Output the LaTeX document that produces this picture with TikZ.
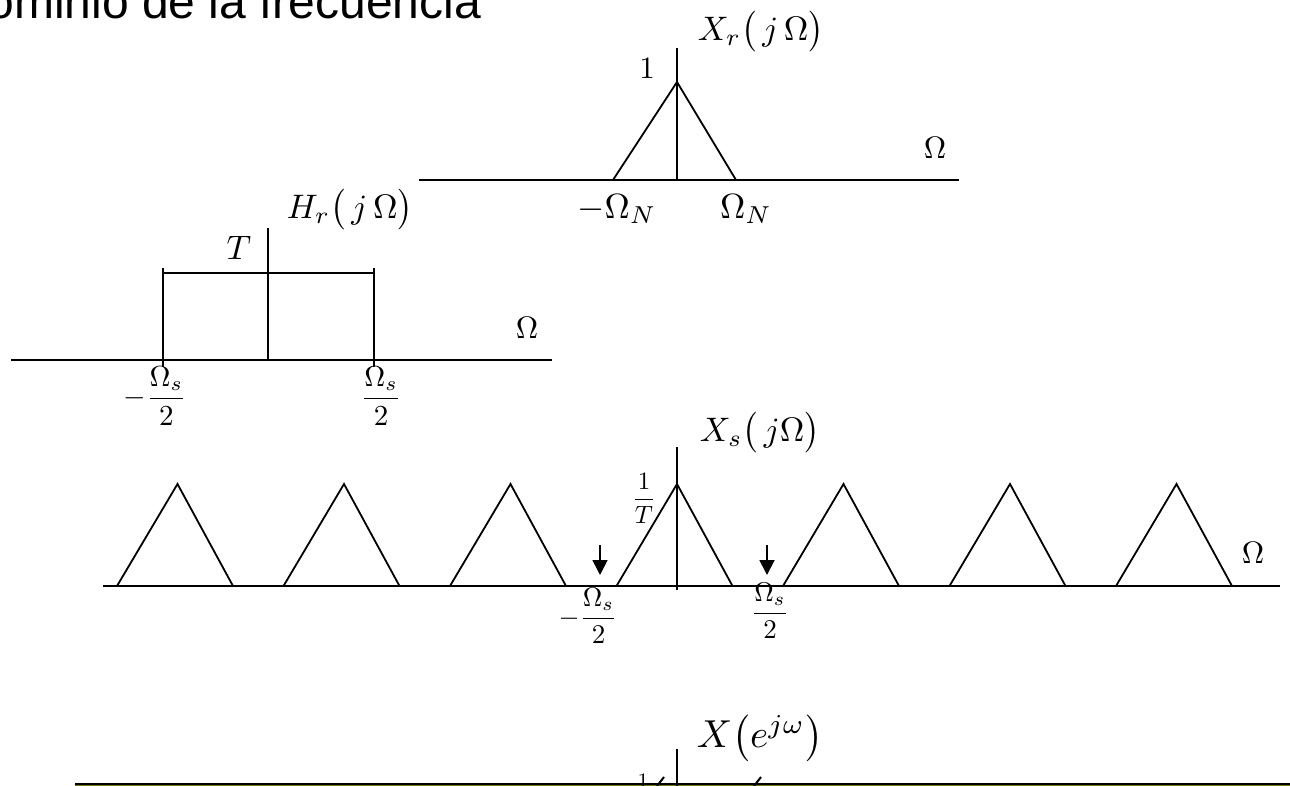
\documentclass[tikz,border=0pt]{standalone}
\usepackage{fontspec}
\newfontfamily\titlefont{Liberation Sans}
\usetikzlibrary{arrows.meta}
\newcommand{\dfr}[2]{{\displaystyle\frac{#1}{#2}}}
\begin{document}
\begin{tikzpicture}[x=1pt,y=-1pt,
  ax/.style={line width=1.8pt},
  lbl/.style={inner sep=0pt,outer sep=0pt},
  fbig/.style={lbl,scale=3.4},
  fmed/.style={lbl,scale=3.1},
  fsym/.style={lbl,scale=3.5},
  ffrac/.style={lbl,scale=2.9},
  fsmall/.style={lbl,scale=2.7},
  downarrow/.style={line width=1.8pt,-{Triangle[length=15pt,width=15pt]}}
]
\useasboundingbox (0,0) rectangle (1290,786);
\clip (0,0) rectangle (1290,786);

% title
\node[lbl,anchor=base east,font=\titlefont\fontsize{48}{52}\selectfont] (title) at (481,19) {Dominio de la frecuencia};

% ---------- X_r(j Omega) ----------
\coordinate (xrL) at (419,180); \coordinate (xrR) at (959,180);
\coordinate (xrO) at (677,180); \coordinate (xrT) at (677,48);
\coordinate (xrP) at (677,82);
\coordinate (xrA) at (613,180); \coordinate (xrB) at (736,180);
\draw[ax] (xrL) -- (xrR);
\draw[ax] (xrO) -- (xrT);
\draw[ax] (xrA) -- (xrP) -- (xrB);
\node[fbig] (xrlab) at (761,32) {$X_r\bigl(\,j\,\Omega\bigr)$};
\node[fmed] (xrone) at (647,69) {$1$};
\node[fmed] (xromega) at (935,148) {$\Omega$};
\node[fsym] (xrmN) at (617,209) {$-\Omega_N$};
\node[fsym] (xrpN) at (746,209) {$\Omega_N$};

% ---------- H_r(j Omega) ----------
\coordinate (hrL) at (11,360); \coordinate (hrR) at (552,360);
\coordinate (hrO) at (268,360); \coordinate (hrT) at (268,228);
\coordinate (hrA) at (163,268); \coordinate (hrAb) at (163,367);
\coordinate (hrB) at (374,268); \coordinate (hrBb) at (374,367);
\coordinate (hrTL) at (163,273); \coordinate (hrTR) at (374,273);
\draw[ax] (hrL) -- (hrR);
\draw[ax] (hrO) -- (hrT);
\draw[ax] (hrTL) -- (hrTR);
\draw[ax] (hrA) -- (hrAb);
\draw[ax] (hrB) -- (hrBb);
\node[fbig] (hrlab) at (350,210) {$H_r\bigl(\,j\,\Omega\bigr)$};
\node[fbig] (hrTlab) at (239,248) {$T$};
\node[fmed] (hromega) at (527,328) {$\Omega$};
\node[ffrac] (hrfl) at (155,396) {$-\dfr{\Omega_s}{2}$};
\node[ffrac] (hrfr) at (381,396) {$\dfr{\Omega_s}{2}$};

% ---------- X_s(j Omega) ----------
\coordinate (xsL) at (103,586); \coordinate (xsR) at (1280,586);
\coordinate (xsO) at (677,590); \coordinate (xsT) at (677,447);
\draw[ax] (xsL) -- (xsR);
\draw[ax] (xsO) -- (xsT);
\foreach \m in {175,341.5,508,674.5,841,1007.5,1174}{
  \draw[ax,line join=miter] (\m-58,586) -- (\m+2.5,484) -- (\m+58,586);
}
\coordinate (arLs) at (600,545); \coordinate (arLe) at (600,575);
\coordinate (arRs) at (767,545); \coordinate (arRe) at (767,575);
\draw[downarrow] (arLs) -- (arLe);
\draw[downarrow] (arRs) -- (arRe);
\node[fbig] (xslab) at (760,433) {$X_s\bigl(\,j\Omega\bigr)$};
\node[lbl,scale=2.5] (xsinv) at (644,498) {$\dfr{1}{T}$};
\node[fmed] (xsomega) at (1253,553) {$\Omega$};
\node[fsmall] (xsfl) at (588,616) {$-\dfr{\Omega_s}{2}$};
\node[fsmall] (xsfr) at (770,611) {$\dfr{\Omega_s}{2}$};

% ---------- X(e^{j omega}) ----------
\coordinate (xeL) at (75,783.5); \coordinate (xeR) at (1290,783.5);
\coordinate (xeO) at (677,786); \coordinate (xeT) at (677,749);
\draw[line width=3pt,color={rgb,255:red,110;green,120;blue,20}] (75,786) -- (1290,786);
\draw[line width=2pt] (xeL) -- (xeR);
\draw[line width=1.2pt] (xeO) -- (xeT);
\node[lbl,scale=3.9] (xelab) at (760,738) {$X\bigl(e^{j\omega}\bigr)$};
\node[lbl,scale=2.2,anchor=north] (xeone) at (643,774) {$1$};
\draw[line width=2pt] (657,786) -- (664,777);
\draw[line width=2pt] (754,786) -- (761,777);
\end{tikzpicture}
\end{document}
